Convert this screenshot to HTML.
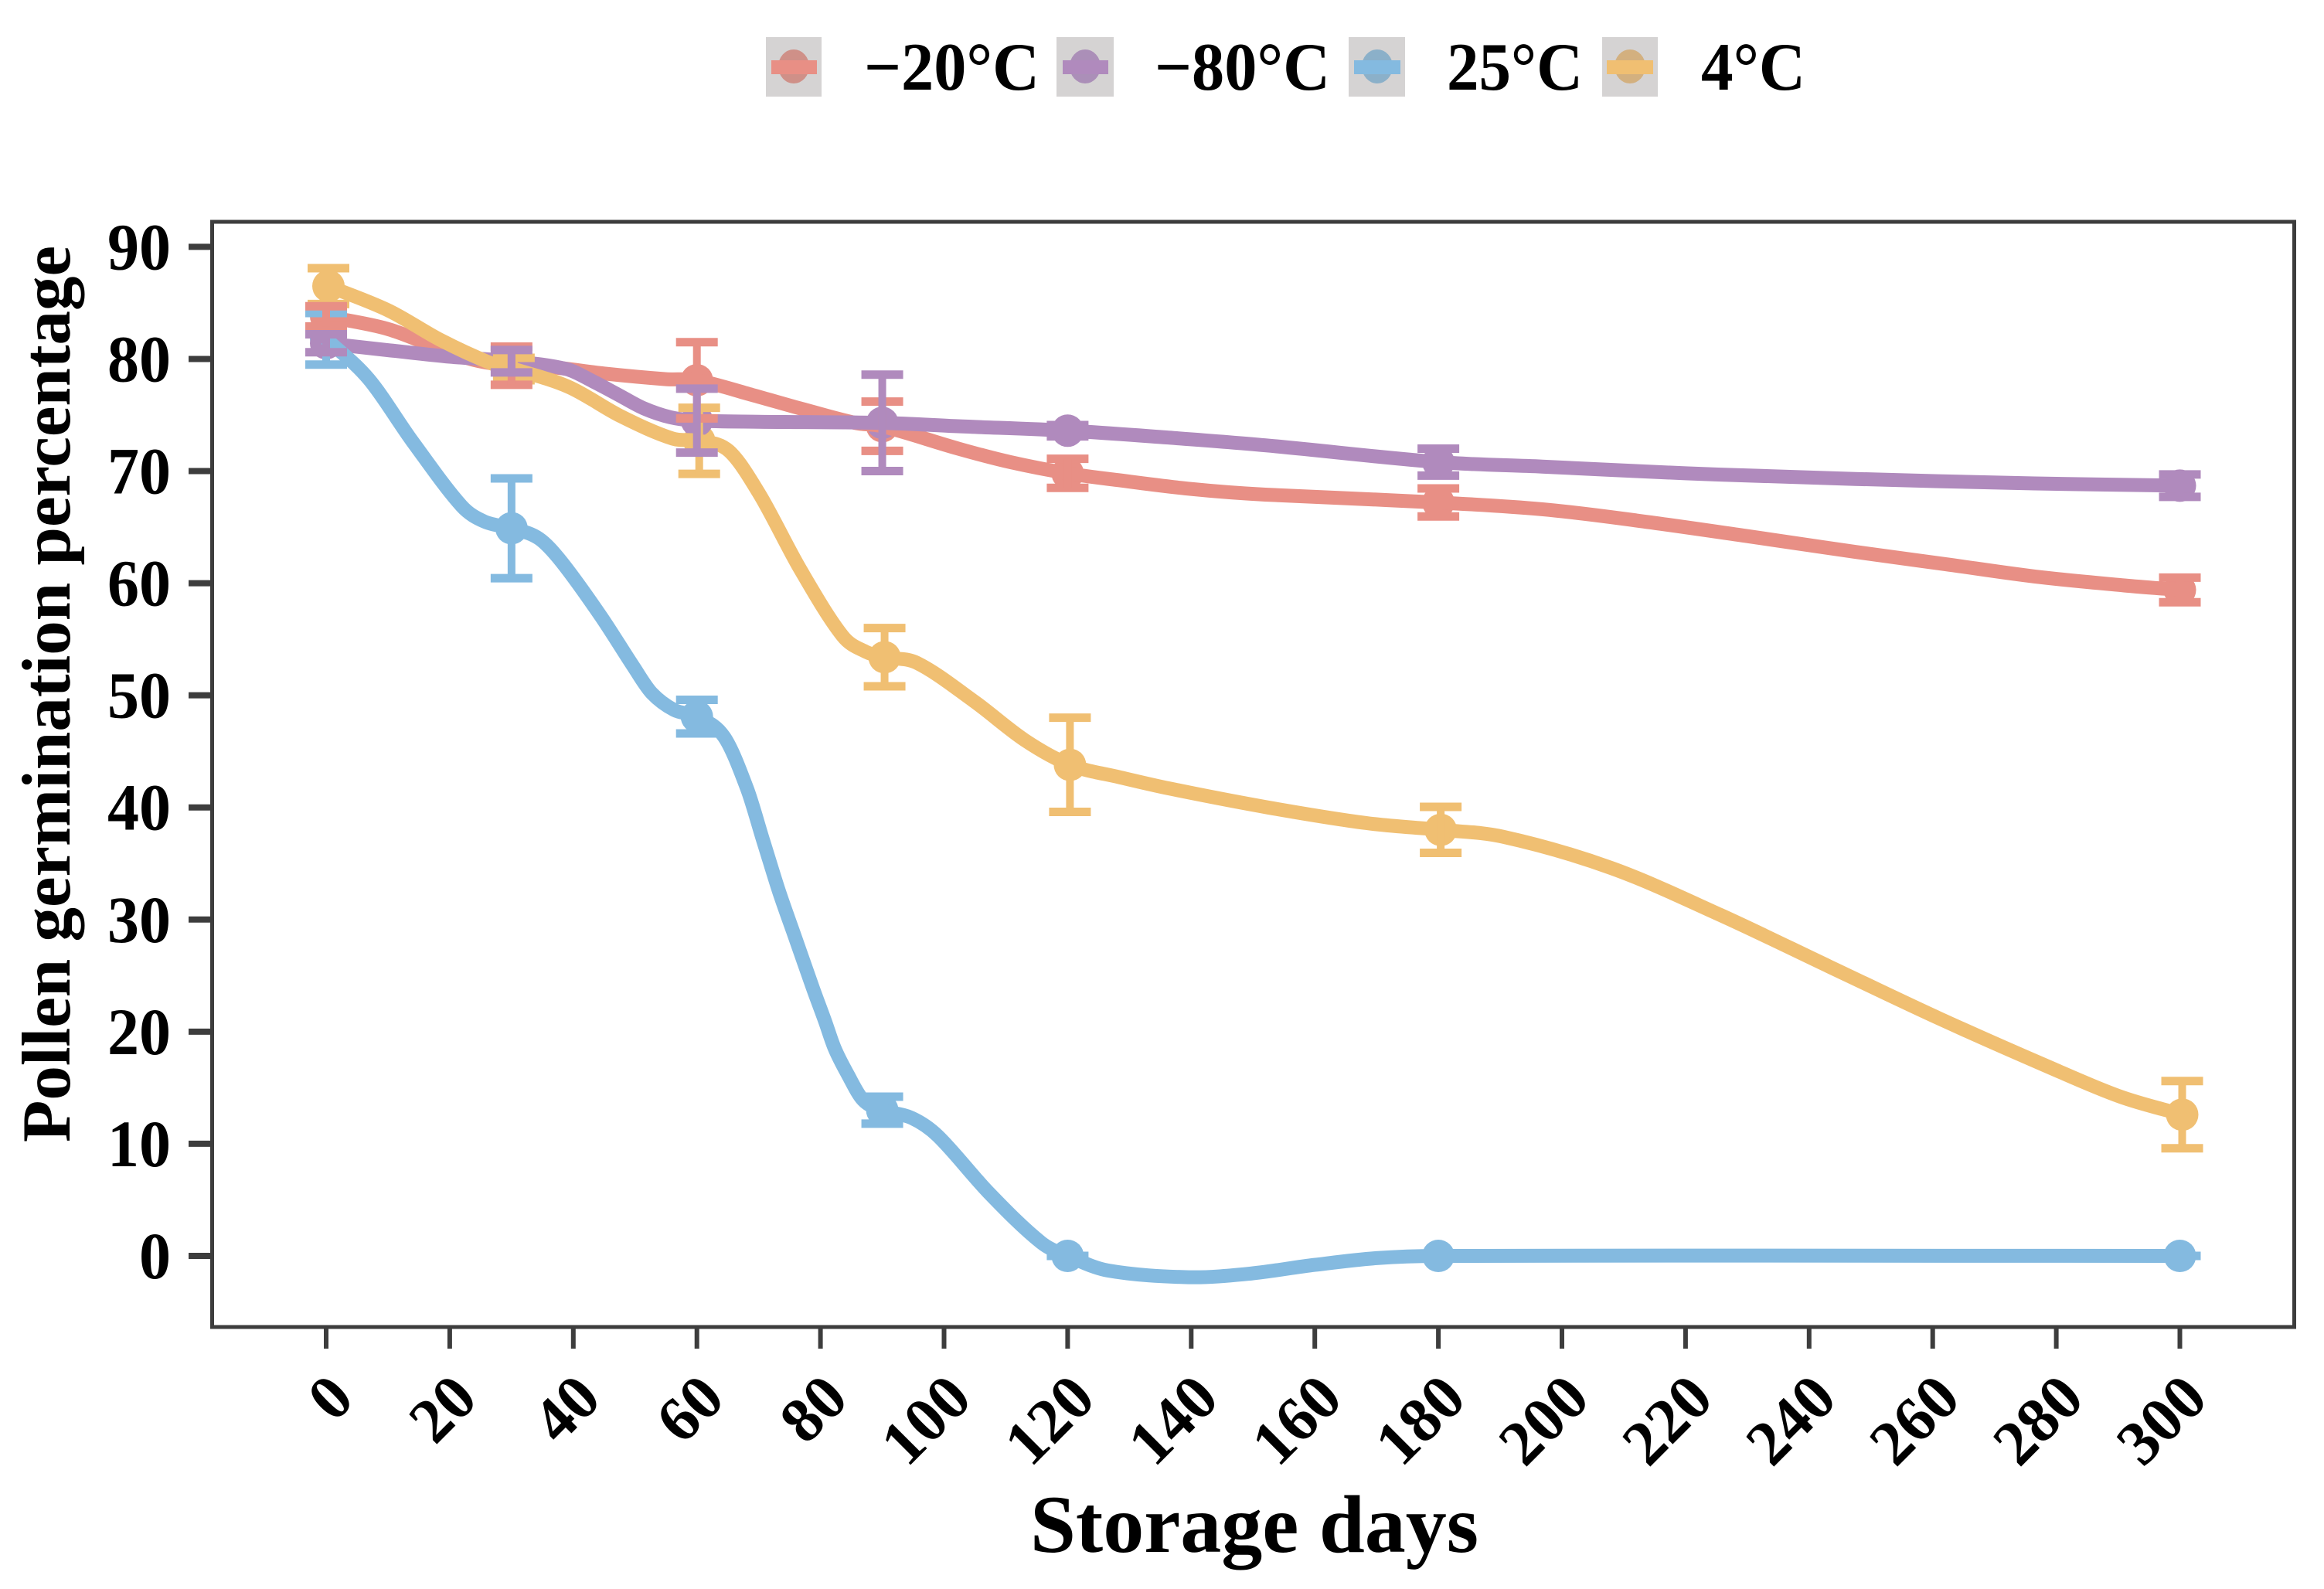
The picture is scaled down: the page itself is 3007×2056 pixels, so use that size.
<!DOCTYPE html>
<html lang="en">
<head>
<meta charset="utf-8">
<title>Pollen germination percentage over storage days</title>
<style>
  html, body { margin: 0; padding: 0; background: #ffffff; }
  #chart { display: block; width: 3007px; height: 2056px; }
  text { font-family: "Liberation Serif", serif; font-weight: bold; fill: #000000; }
</style>
</head>
<body>
<svg id="chart" xmlns="http://www.w3.org/2000/svg" width="3007" height="2056" viewBox="0 0 3007 2056">
  <rect x="0" y="0" width="3007" height="2056" fill="#ffffff"/>

  <g id="legend">
    <g>
      <rect x="991" y="48" width="72" height="77" fill="#d5d3d3"/>
      <ellipse cx="1027" cy="86" rx="20" ry="22" fill="#cf9088"/>
      <rect x="998" y="78" width="59" height="18" fill="#E88F85"/>
      <text x="1118" y="116" font-size="88" textLength="227" lengthAdjust="spacingAndGlyphs">−20°C</text>
    </g>
    <g>
      <rect x="1367" y="48" width="74" height="77" fill="#d5d3d3"/>
      <ellipse cx="1404" cy="86" rx="20" ry="22" fill="#ab8fb8"/>
      <rect x="1375" y="78" width="59" height="18" fill="#B08ABD"/>
      <text x="1494" y="116" font-size="88" textLength="227" lengthAdjust="spacingAndGlyphs">−80°C</text>
    </g>
    <g>
      <rect x="1745" y="48" width="73" height="77" fill="#d5d3d3"/>
      <ellipse cx="1782" cy="86" rx="20" ry="22" fill="#8bb0c9"/>
      <rect x="1752" y="78" width="60" height="18" fill="#84BAE0"/>
      <text x="1872" y="116" font-size="88" textLength="176" lengthAdjust="spacingAndGlyphs">25°C</text>
    </g>
    <g>
      <rect x="2073" y="48" width="72" height="77" fill="#d5d3d3"/>
      <ellipse cx="2109" cy="86" rx="20" ry="22" fill="#d3b07f"/>
      <rect x="2079" y="78" width="60" height="18" fill="#F0BF72"/>
      <text x="2201" y="116" font-size="88" textLength="135" lengthAdjust="spacingAndGlyphs">4°C</text>
    </g>
  </g>

  <g id="ticks"></g>
  <g id="markers"></g>
  <g id="lines"></g>
  <g id="errorbars"></g>

  <rect x="274.5" y="287" width="2694" height="1430" fill="none" stroke="#3d3d3d" stroke-width="5"/>

  <text x="1623" y="2008" font-size="106" text-anchor="middle">Storage days</text>
  <text transform="translate(90 898) rotate(-90)" font-size="89" text-anchor="middle">Pollen germination percentage</text>
</svg>

<script>
// Axis tick labels
const xTickLabels = [0, 20, 40, 60, 80, 100, 120, 140, 160, 180, 200, 220, 240, 260, 280, 300];
const yTickLabels = [0, 10, 20, 30, 40, 50, 60, 70, 80, 90];

// Sampling days
const storageDays = [0, 30, 60, 90, 120, 180, 300];

// Mean germination percentage per storage temperature
const minus20Means = [83.8, 79.4, 78.1, 74.0, 69.8, 67.2, 59.4];
const minus80Means = [81.4, 79.8, 74.5, 74.3, 73.6, 70.8, 68.7];
const plus25Means  = [81.8, 64.9, 48.1, 13.0, 0, 0, 0];
const plus4Means   = [86.5, 79.1, 72.7, 53.4, 43.8, 38.0, 12.6];

// Error bar half-heights
const minus20Errors = [0.9, 1.7, 3.4, 2.2, 1.3, 1.25, 1.1];
const minus80Errors = [0.8, 1.0, 2.85, 4.3, 0.5, 1.2, 1.0];
const plus25Errors  = [2.3, 4.45, 1.5, 1.2, 0, 0, 0];
const plus4Errors   = [1.6, 1.0, 2.95, 2.6, 4.2, 2.05, 3.0];

// Readings of the smoothed curves between the sampling days
const minus20CurveDays = [9.8, 18.1, 24, 36, 45, 55, 68.9, 77.3, 85.6, 102.3, 110.7, 128, 140, 152, 196.8, 212, 230, 247.4, 262, 276.5, 291];
const minus20CurveVals = [82.7, 81.0, 79.9, 79.3, 78.7, 78.2, 76.8, 75.5, 74.3, 72.0, 70.8, 69.2, 68.4, 67.9, 66.6, 65.6, 64.2, 62.8, 61.7, 60.6, 59.8];

const minus80CurveDays = [9.8, 20, 38.9, 43.2, 47.3, 51.4, 55.7, 70, 102.3, 136, 152, 196.8, 220, 247.4, 276.5];
const minus80CurveVals = [80.8, 80.2, 79.1, 78.0, 76.8, 75.6, 74.8, 74.4, 74.0, 73.0, 72.3, 70.4, 69.8, 69.3, 68.9];

const plus25CurveDays = [6.9, 13.9, 21.9, 25.6, 34.4, 38.1, 44.4, 49.8, 52.7, 56.3, 64.4, 68.1, 70.7, 73.3, 76.1, 78.7, 80.7, 82.3, 84.4, 86.9, 94.8, 99, 107.3, 115.7, 126.5, 139.6, 149.2, 160, 170];
const plus25CurveVals = [78.2, 72.7, 66.9, 65.5, 64.0, 61.9, 57.1, 52.5, 50.2, 48.7, 46.3, 41.7, 37.1, 32.5, 28.1, 24.0, 21.0, 18.5, 16.2, 13.9, 12.3, 10.7, 5.6, 1.2, -1.3, -1.9, -1.6, -0.8, -0.2];

const plus4CurveDays = [9.8, 18.1, 26.4, 38.9, 47.3, 55.7, 64.8, 69.8, 76.4, 83.2, 86.9, 95.2, 104.4, 112.7, 128, 136, 152, 168, 190, 207.6, 225.3, 242.9, 260.6, 278.2, 290];
const plus4CurveVals = [84.3, 81.7, 79.6, 77.5, 74.9, 72.9, 71.8, 67.9, 61.2, 55.3, 53.9, 52.9, 49.5, 46.0, 42.7, 41.7, 40.0, 38.6, 37.4, 34.6, 30.4, 25.8, 21.2, 16.9, 14.2];

// Axis functions
const xDomain = [0, 300];
const xRange = [422, 2820.5];
const yDomain = [0, 90];
const yRange = [1625, 319.4];
function xScale(d) {
  return xRange[0] + (d - xDomain[0]) / (xDomain[1] - xDomain[0]) * (xRange[1] - xRange[0]);
}
function yScale(v) {
  return yRange[0] + (v - yDomain[0]) / (yDomain[1] - yDomain[0]) * (yRange[1] - yRange[0]);
}

const SVG_NS = 'http://www.w3.org/2000/svg';
function make(tag, parent) {
  const el = document.createElementNS(SVG_NS, tag);
  parent.appendChild(el);
  return el;
}

const tickLayer = document.getElementById('ticks');
const lineLayer = document.getElementById('lines');
const errorLayer = document.getElementById('errorbars');
const markerLayer = document.getElementById('markers');

// Ticks and tick labels
yTickLabels.forEach(function (v) {
  const tick = make('line', tickLayer);
  
  
  tick.setAttribute('x1', 244);
  tick.setAttribute('x2', 274);
  tick.setAttribute('y1', yScale(v));
  tick.setAttribute('y2', yScale(v));
  tick.setAttribute('stroke', '#3d3d3d');
  tick.setAttribute('stroke-width', 8);
  const label = make('text', tickLayer);
  
  
  label.setAttribute('x', 221);
  label.setAttribute('y', yScale(v) + 29);
  label.setAttribute('text-anchor', 'end');
  label.setAttribute('font-size', 86);
  label.setAttribute('textLength', String(v).length * 41);
  label.setAttribute('lengthAdjust', 'spacingAndGlyphs');
  label.textContent = String(v);
});

xTickLabels.forEach(function (d) {
  const tick = make('line', tickLayer);
  
  
  tick.setAttribute('x1', xScale(d));
  tick.setAttribute('x2', xScale(d));
  tick.setAttribute('y1', 1717);
  tick.setAttribute('y2', 1745);
  tick.setAttribute('stroke', '#3d3d3d');
  tick.setAttribute('stroke-width', 6);
  const label = make('text', tickLayer);
  const ax = xScale(d) + 39;
  const ay = 1813;
  
  
  label.setAttribute('x', ax);
  label.setAttribute('y', ay);
  label.setAttribute('text-anchor', 'end');
  label.setAttribute('font-size', 82);
  label.setAttribute('transform', 'rotate(-45 ' + ax + ' ' + ay + ')');
  label.textContent = String(d);
});

// Curve: cubic Hermite through the sampling points and the curve readings
function curvePath(means, curveDays, curveVals, dodge) {
  const knots = [];
  storageDays.forEach(function (d, i) { knots.push([d, means[i]]); });
  curveDays.forEach(function (d, i) { knots.push([d, curveVals[i]]); });
  knots.sort(function (a, b) { return a[0] - b[0]; });
  const pts = knots.map(function (k) { return [xScale(k[0]) + dodge, yScale(k[1])]; });
  function slope(i) {
    const a = pts[Math.max(i - 1, 0)];
    const b = pts[Math.min(i + 1, pts.length - 1)];
    return (b[1] - a[1]) / (b[0] - a[0]);
  }
  let path = 'M' + pts[0][0].toFixed(1) + ' ' + pts[0][1].toFixed(1);
  for (let i = 0; i < pts.length - 1; i++) {
    const h = (pts[i + 1][0] - pts[i][0]) / 3;
    path += 'C' + (pts[i][0] + h).toFixed(1) + ' ' + (pts[i][1] + h * slope(i)).toFixed(1) +
      ' ' + (pts[i + 1][0] - h).toFixed(1) + ' ' + (pts[i + 1][1] - h * slope(i + 1)).toFixed(1) +
      ' ' + pts[i + 1][0].toFixed(1) + ' ' + pts[i + 1][1].toFixed(1);
  }
  return path;
}

function drawLine(key, color, means, curveDays, curveVals, dodge) {
  const line = make('path', lineLayer);
  
  
  line.setAttribute('d', curvePath(means, curveDays, curveVals, dodge));
  line.setAttribute('fill', 'none');
  line.setAttribute('stroke', color);
  line.setAttribute('stroke-width', 18);
}

function drawErrors(key, color, means, errors, dodge) {
  storageDays.forEach(function (d, i) {
    const x = xScale(d) + dodge;
    const top = yScale(means[i] + errors[i]);
    const bottom = yScale(means[i] - errors[i]);
    const caps = make('path', errorLayer);
    
    
    caps.setAttribute('d', 'M' + (x - 27) + ' ' + top + 'H' + (x + 27) +
      'M' + (x - 27) + ' ' + bottom + 'H' + (x + 27));
    caps.setAttribute('fill', 'none');
    caps.setAttribute('stroke', color);
    caps.setAttribute('stroke-width', 11);
    const stem = make('path', errorLayer);
    
    
    stem.setAttribute('d', 'M' + x + ' ' + top + 'V' + bottom);
    stem.setAttribute('fill', 'none');
    stem.setAttribute('stroke', color);
    stem.setAttribute('stroke-width', 10);
  });
}

function drawMarkers(key, color, means, dodge) {
  storageDays.forEach(function (d, i) {
    const dot = make('circle', markerLayer);
    
    
    dot.setAttribute('cx', xScale(d) + dodge);
    dot.setAttribute('cy', yScale(means[i]));
    dot.setAttribute('r', 21);
    dot.setAttribute('fill', color);
  });
}

const red = '#E88F85', purple = '#B08ABD', blue = '#84BAE0', orange = '#F0BF72';

drawMarkers('minus-20', red, minus20Means, 0);
drawMarkers('plus-25', blue, plus25Means, 0);
drawMarkers('plus-4', orange, plus4Means, 3);
drawMarkers('minus-80', purple, minus80Means, 0);

drawLine('minus-20', red, minus20Means, minus20CurveDays, minus20CurveVals, 0);
drawLine('minus-80', purple, minus80Means, minus80CurveDays, minus80CurveVals, 0);
drawLine('plus-25', blue, plus25Means, plus25CurveDays, plus25CurveVals, 0);
drawLine('plus-4', orange, plus4Means, plus4CurveDays, plus4CurveVals, 3);

drawErrors('plus-25', blue, plus25Means, plus25Errors, 0);
drawErrors('plus-4', orange, plus4Means, plus4Errors, 3);
drawErrors('minus-20', red, minus20Means, minus20Errors, 0);
drawErrors('minus-80', purple, minus80Means, minus80Errors, 0);
</script>
</body>
</html>
